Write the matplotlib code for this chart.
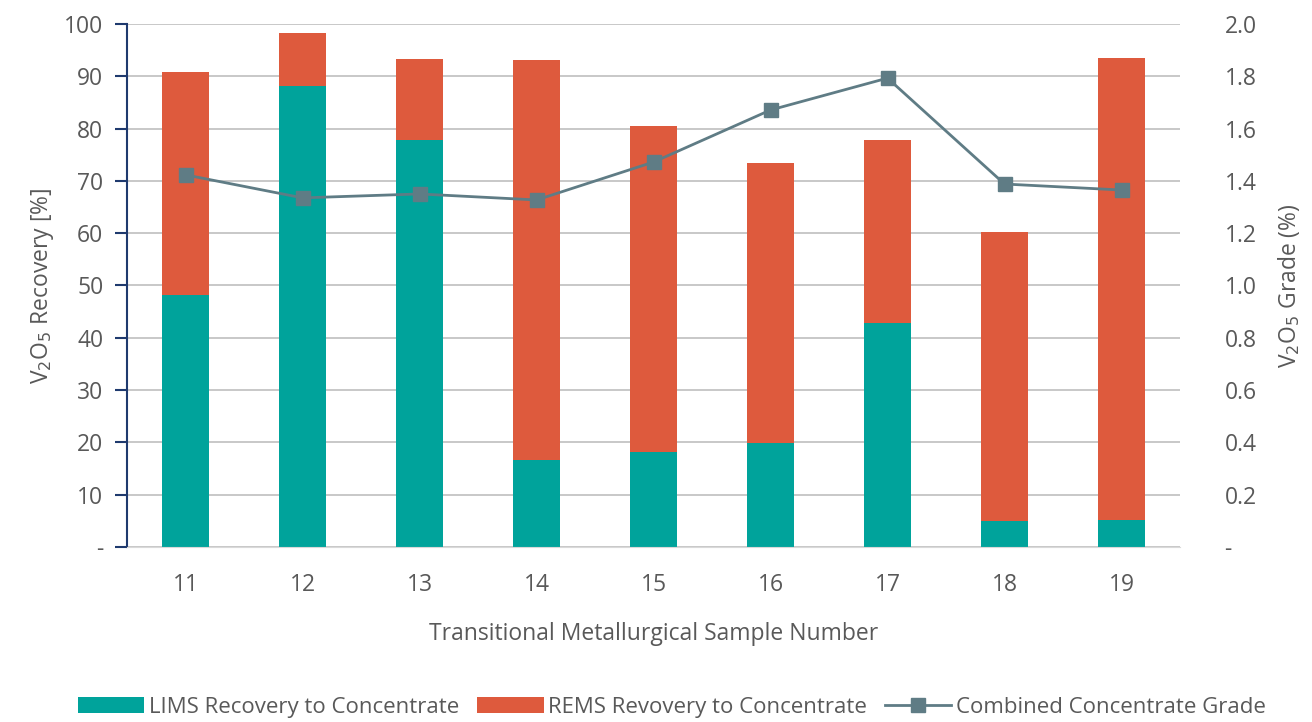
import matplotlib.pyplot as plt
import numpy as np

samples = ['11', '12', '13', '14', '15', '16', '17', '18', '19']
lims = [48.2, 88.1, 77.8, 16.7, 18.2, 19.9, 42.8, 5.0, 5.2]
total = [90.8, 98.3, 93.3, 93.1, 80.5, 73.4, 77.8, 60.2, 93.5]
rems = [t - l for t, l in zip(total, lims)]
grade = [1.423, 1.335, 1.350, 1.327, 1.472, 1.671, 1.793, 1.388, 1.365]

plt.rcParams['font.family'] = ['Open Sans', 'DejaVu Sans']
grey = '#595959'
fs = 16.5

fig = plt.figure(figsize=(13.12, 7.22), dpi=100)
ax = fig.add_axes([0.0968, 0.2424, 0.8026, 0.7244])
x = np.arange(len(samples))

b1 = ax.bar(x, lims, width=0.4, color='#00A39B', zorder=2, label='LIMS Recovery to Concentrate')
b2 = ax.bar(x, rems, width=0.4, bottom=lims, color='#DE5A3D', zorder=2, label='REMS Revovery to Concentrate')

ax.set_xlim(-0.5, len(samples) - 0.5)
ax.set_ylim(0, 100)
ax.set_yticks(np.arange(0, 101, 10))
ax.set_yticklabels(['-'] + [str(v) for v in range(10, 101, 10)])
ax.set_xticks(x)
ax.set_xticklabels(samples)
ax.yaxis.grid(True, color='#BFBFBF', linewidth=1.2, zorder=0)
ax.set_axisbelow(True)
for s in ['top', 'right']:
    ax.spines[s].set_visible(False)
ax.spines['left'].set_color('#1F3A6E')
ax.spines['left'].set_linewidth(1.5)
ax.spines['bottom'].set_color('#D9D9D9')
ax.tick_params(axis='y', colors='#1F3A6E', length=9, width=1.5, labelcolor=grey, labelsize=fs, pad=8)
ax.tick_params(axis='x', length=0, labelcolor=grey, labelsize=fs, pad=19)
ax.set_ylabel('V$_2$O$_5$ Recovery [%]', color=grey, fontsize=fs, labelpad=6)
ax.set_xlabel('Transitional Metallurgical Sample Number', color=grey, fontsize=fs, labelpad=18)

ax2 = ax.twinx()
ln, = ax2.plot(x, grade, color='#5F7C85', linewidth=2, marker='s', markersize=10, zorder=3,
               label='Combined Concentrate Grade')
ax2.set_ylim(0, 2.0)
ax2.set_yticks(np.arange(0, 2.01, 0.2))
ax2.set_yticklabels(['-'] + ['%.1f' % v for v in np.arange(0.2, 2.01, 0.2)])
for s in ['top', 'right', 'left', 'bottom']:
    ax2.spines[s].set_visible(False)
ax2.tick_params(axis='y', length=0, labelcolor=grey, labelsize=fs, pad=32)
ax2.set_ylabel('V$_2$O$_5$ Grade (%)', color=grey, fontsize=fs, labelpad=14)

fig.legend(handles=[b1, b2, ln], loc='lower center', bbox_to_anchor=(0.512, -0.022), ncol=3,
           frameon=False, fontsize=16, labelcolor=grey, handlelength=3.0, handletextpad=0.2,
           columnspacing=0.8)

fig.savefig('out.png', dpi=100)
